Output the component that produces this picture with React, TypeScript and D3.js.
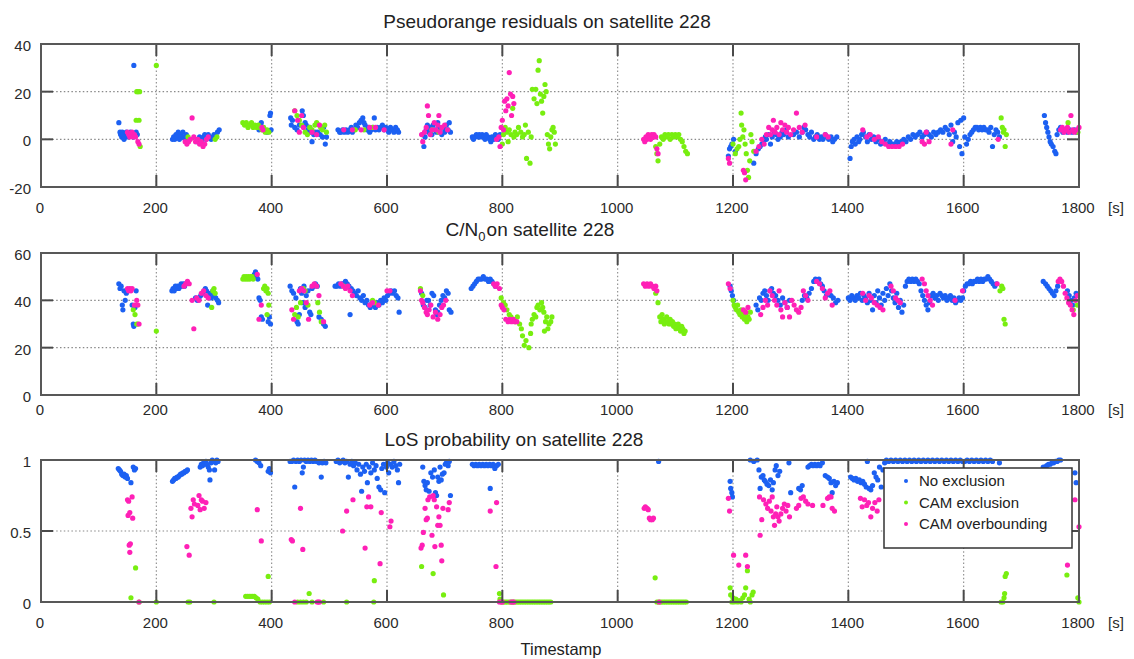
import React from "react";
import * as d3 from "d3";

type P = [number, number];

// ---------- Panel 1: pseudorange residuals ----------
const prBlue: P[] = [
  [135,7],[137,3],[138,2],[140,1],[141,3],[142,2],[144,0],[145,1],[146,2],[148,3],[150,1],[152,2],[155,3],[158,2],[160,1],[161,31],[163,2],[165,3],[167,2],
  [228,0],[230,1],[232,0],[234,2],[236,1],[238,3],[240,0],[242,2],[244,1],[246,3],[248,1],[250,0],[252,2],[254,1],[256,0],[270,-1],[272,0],[275,1],[278,-1],[280,0],[282,1],[284,2],[286,0],[288,1],[290,2],[292,1],[295,0],[298,1],[300,2],[303,1],[306,3],[309,4],
  [378,4],[380,6],[382,7],[385,5],[388,4],[392,3],[397,10],[398,11],[399,4],
  [433,9],[434,6],[436,8],[440,5],[444,4],[448,6],[453,12],[455,10],[458,7],[460,6],[463,4],[466,5],[468,3],[470,-1],[473,2],[476,3],[480,3],[484,2],[488,1],[490,5],[493,-2],[495,1],
  [515,4],[518,3],[520,3],[523,4],[526,3],[529,4],[532,3],[535,4],[538,5],[540,3],[543,4],[546,6],[549,5],[552,7],[555,8],[558,9],[560,7],[562,6],[565,4],[568,5],[570,3],[573,4],[576,5],[578,9],[580,4],[583,5],[586,4],[589,5],[592,6],[595,4],[598,5],[600,4],[603,3],[606,5],[609,4],[612,3],[615,5],[618,4],[620,3],
  [662,2],[664,-3],[666,1],[668,4],[670,6],[672,3],[675,5],[678,2],[680,6],[683,4],[686,3],[688,7],[690,5],[692,4],[695,2],[698,5],[700,3],[703,6],[706,4],[708,7],[710,3],
  [748,1],[750,0],[752,1],[755,2],[758,1],[760,2],[762,1],[765,2],[768,1],[770,0],[772,2],[775,1],[778,0],[780,-1],[782,1],[785,0],[788,2],[790,1],[793,0],[796,2],
  [1192,-7],[1194,-4],[1196,-3],[1198,-2],[1201,0],[1204,-5],[1236,-10],[1240,-6],[1244,-4],[1247,-3],[1250,-2],[1253,-1],[1256,1],[1258,0],[1262,2],[1265,-2],[1268,1],[1272,3],[1275,2],[1278,0],[1282,1],[1285,3],[1288,2],[1292,4],[1296,1],
  [1305,2],[1310,3],[1315,1],[1320,3],[1323,5],[1326,4],[1330,2],[1333,1],[1336,3],[1340,0],[1343,1],[1346,2],[1350,0],[1353,1],[1356,0],[1360,2],[1363,1],[1366,0],[1370,1],[1373,-1],[1376,0],[1380,1],
  [1403,-8],[1405,-3],[1407,-1],[1410,0],[1412,-2],[1415,1],[1418,-1],[1420,0],[1423,2],[1426,3],[1430,1],[1433,-1],[1436,2],[1440,0],[1444,1],[1448,-1],[1452,0],[1456,-2],[1460,-1],[1464,0],[1468,-2],[1472,-1],[1476,-2],[1480,-2],[1484,-1],[1488,-2],[1492,-1],[1496,0],[1500,-1],[1504,1],[1508,0],[1512,2],[1516,1],[1520,2],[1524,3],[1528,1],[1532,2],[1536,3],[1540,2],[1544,1],[1548,3],[1552,2],[1556,3],[1560,4],[1564,3],[1568,5],[1572,4],[1575,2],[1578,6],[1581,-1],[1584,3],[1587,1],[1590,7],[1593,-3],[1595,8],[1597,-6],[1600,9],
  [1602,1],[1605,-2],[1608,0],[1611,2],[1614,3],[1617,4],[1620,5],[1623,5],[1626,4],[1629,5],[1632,4],[1635,5],[1638,4],[1641,4],[1644,3],[1647,5],[1650,-3],[1653,2],[1656,4],[1659,3],[1662,1],
  [1740,10],[1742,7],[1744,5],[1746,3],[1748,1],[1750,-1],[1752,-2],[1755,-3],[1758,-5],[1760,-6],[1762,2],[1765,4],[1768,5],[1772,3],[1776,4],[1780,3],[1784,4],[1788,3],[1792,4],[1796,3],
];
const prGreen: P[] = [
  [165,8],[166,20],[168,20],[170,8],[171,20],[172,-3],[200,31],[255,1],[258,0],[302,0],[305,1],
  [350,7],[353,6],[356,7],[359,5],[362,6],[365,7],[368,5],[371,6],[374,5],[377,6],[380,5],[383,4],[386,5],[389,3],[392,4],[395,3],
  [440,12],[444,10],[448,8],[452,6],[458,3],[462,2],[466,5],[470,4],[475,6],[478,7],[482,6],[485,5],[488,4],[492,6],[495,3],[545,4],[560,4],[575,5],[678,4],[690,3],
  [800,-2],[802,2],[805,5],[808,3],[810,-1],[812,4],[815,2],[818,13],[820,1],[822,3],[825,2],[828,5],[832,3],[835,1],[838,2],[840,6],[842,-8],[845,3],[848,-10],[850,1],[852,21],[855,17],[858,21],[860,15],[862,29],[864,33],[866,19],[868,16],[870,11],[872,18],[874,23],[876,20],[878,2],[880,-2],[882,-4],[884,1],[886,4],[888,5],[890,3],[892,-2],
  [1066,-3],[1068,-6],[1070,-9],[1073,-2],[1076,1],[1079,0],[1082,2],[1085,1],[1088,2],[1091,0],[1094,2],[1097,1],[1100,2],[1103,1],[1106,2],[1109,0],[1112,-1],[1115,-3],[1118,-5],[1121,-6],
  [1200,-2],[1204,-6],[1207,-4],[1210,-3],[1212,0],[1214,11],[1215,6],[1217,1],[1219,4],[1221,-2],[1223,-6],[1225,-13],[1227,-16],[1229,-9],[1231,2],[1233,-1],[1236,-5],
  [1665,9],[1667,5],[1669,3],[1670,4],[1672,-3],[1674,2],[1781,7],[1798,3],
];
const prPink: P[] = [
  [150,3],[152,2],[154,1],[156,2],[158,3],[160,1],[162,2],[164,1],[168,-1],[170,-2],
  [250,-1],[253,-2],[256,-1],[259,0],[262,9],[265,1],[268,-1],[272,0],[275,-2],[278,-1],[281,-3],[284,-2],[287,0],[290,1],
  [383,5],[385,4],[440,12],[445,8],[448,3],[452,10],[455,5],[470,3],[478,2],[483,6],[525,4],[540,4],[555,4],[570,5],[580,5],[595,4],
  [660,2],[662,-1],[665,3],[668,5],[670,14],[672,10],[675,2],[678,4],[682,7],[685,4],[688,6],[690,10],[692,3],[695,5],[700,6],[705,4],
  [790,0],[794,1],[796,-3],[798,5],[800,8],[802,4],[804,16],[806,12],[808,17],[810,14],[812,28],[814,19],[816,10],[818,18],[820,15],
  [1045,0],[1047,-1],[1049,1],[1051,0],[1053,2],[1055,1],[1057,0],[1059,2],[1061,1],[1063,2],[1066,1],[1068,-4],[1070,-6],
  [1192,-8],[1194,-10],[1218,-13],[1220,-14],[1222,-17],[1240,-5],[1245,-3],[1250,0],[1254,-2],[1258,2],[1262,5],[1265,2],[1268,4],[1270,8],[1273,3],[1276,5],[1280,2],[1283,7],[1286,4],[1290,6],[1293,3],[1296,5],[1300,2],[1305,4],[1310,11],[1315,5],[1320,3],[1325,6],[1345,1],[1360,2],[1365,1],
  [1425,4],[1432,1],[1438,2],[1445,0],[1452,1],[1458,-1],[1464,-2],[1470,-3],[1476,-3],[1482,-3],[1488,-3],[1494,-2],[1528,-1],[1532,-2],[1535,3],[1540,-1],[1578,-2],[1581,4],[1660,0],
  [1768,4],[1771,5],[1774,3],[1777,4],[1780,5],[1783,3],[1786,10],[1789,4],[1792,3],[1796,4],[1800,5],
];

// ---------- Panel 2: C/N0 ----------
const cnBlue: P[] = [
  [135,47],[137,45],[139,46],[141,38],[142,36],[144,44],[146,40],[148,43],[150,44],[158,38],[160,30],[161,29],[163,37],[165,44],
  [227,44],[229,45],[231,44],[233,46],[235,45],[237,46],[239,45],[241,46],[243,47],[245,46],[247,47],[249,46],[251,47],
  [268,41],[271,40],[274,41],[277,42],[280,43],[283,44],[285,45],[287,44],[289,38],[291,42],[293,43],[295,41],[298,44],[300,42],[303,41],[306,40],[308,39],
  [370,51],[372,52],[374,50],[376,49],[378,41],[380,40],[382,33],[384,32],[394,31],[396,33],[398,30],
  [432,46],[435,44],[438,43],[442,41],[444,31],[446,30],[448,34],[450,45],[452,43],[454,39],[456,46],[458,37],[460,42],[463,44],[466,35],[468,34],[470,45],[473,46],[476,47],[479,46],[482,33],[486,32],[490,30],[493,29],
  [510,46],[513,46],[516,47],[519,46],[522,47],[525,47],[528,48],[531,47],[534,46],[536,34],[538,45],[541,44],[544,43],[547,42],[550,44],[553,41],[556,40],[559,42],[562,39],[565,40],[568,38],[571,37],[574,39],[577,38],[580,37],[583,39],[586,38],[589,40],[592,39],[595,41],[598,40],[601,42],[604,43],[607,44],[610,43],[613,44],[616,42],[619,41],[621,35],
  [660,43],[663,38],[666,37],[669,40],[672,40],[675,38],[678,43],[681,42],[684,36],[686,34],[688,35],[691,38],[694,40],[697,42],[700,41],[703,44],[706,43],[708,36],[711,35],
  [746,45],[749,46],[752,47],[755,48],[758,49],[761,49],[764,49],[767,50],[770,49],[773,49],[776,48],[779,49],[782,48],[785,47],[788,46],
  [1195,46],[1197,44],[1199,42],[1201,40],
  [1240,38],[1243,36],[1246,41],[1249,40],[1252,43],[1255,44],[1258,42],[1261,40],[1264,44],[1267,45],[1270,43],[1274,42],[1278,40],[1282,38],[1286,41],[1290,39],[1294,37],[1298,40],
  [1320,40],[1324,42],[1328,41],[1332,43],[1336,45],[1340,48],[1343,49],[1346,48],[1349,49],[1352,47],[1355,46],[1358,44],[1362,42],[1366,43],[1370,42],[1374,41],[1378,39],[1382,40],
  [1400,41],[1403,40],[1406,42],[1409,41],[1412,40],[1415,42],[1418,41],[1421,43],[1424,40],[1427,42],[1430,41],[1433,39],[1436,43],[1439,40],[1442,36],[1445,42],[1448,39],[1451,44],[1454,41],[1457,38],[1460,43],[1463,40],[1466,45],[1469,42],[1472,47],[1475,44],[1478,41],[1481,39],[1484,43],[1487,37],[1490,40],[1493,35],[1496,38],[1499,46],[1502,48],[1505,49],[1508,48],[1511,49],[1514,48],[1517,49],[1520,48],[1523,47],[1526,44],[1529,42],[1532,40],[1535,38],[1538,36],[1541,39],[1544,42],[1547,43],[1550,41],[1553,42],[1556,40],[1559,43],[1562,42],[1565,41],[1568,42],[1571,40],[1574,41],[1577,42],[1580,40],[1583,41],[1586,39],[1589,40],[1592,41],[1595,40],[1598,41],
  [1600,44],[1603,46],[1606,47],[1609,47],[1612,48],[1615,47],[1618,48],[1621,48],[1624,49],[1627,48],[1630,49],[1633,48],[1636,49],[1639,49],[1642,50],[1645,49],[1648,48],[1651,47],[1654,46],[1657,47],
  [1738,48],[1742,47],[1745,46],[1748,45],[1751,44],[1754,43],[1757,42],[1760,44],[1763,46],[1780,44],[1783,42],[1786,40],[1789,38],[1792,41],[1795,43],
];
const cnGreen: P[] = [
  [160,36],[163,34],[166,30],[168,30],[200,27],[296,37],[298,44],[300,45],[302,43],
  [350,49],[352,50],[354,49],[356,50],[358,49],[360,50],[362,49],[364,50],[366,50],[368,49],[386,45],[388,46],[390,44],[392,45],[394,43],[395,38],[392,34],
  [440,34],[443,37],[446,33],[450,39],[455,45],[458,44],[463,38],[480,39],[483,35],[486,31],[525,46],[575,40],[578,39],[658,45],[662,42],
  [798,41],[802,39],[805,38],[808,36],[812,34],[815,33],[818,32],[822,31],[826,33],[830,30],[833,28],[835,25],[838,21],[841,23],[846,20],[849,26],[850,30],[852,32],[855,34],[858,33],[860,37],[862,38],[865,36],[868,39],[870,37],[872,35],[873,27],[875,31],[877,33],[879,28],[881,30],[884,31],[886,33],
  [1066,43],[1070,39],[1073,33],[1075,31],[1077,34],[1079,32],[1081,30],[1083,31],[1085,33],[1087,31],[1089,30],[1091,32],[1093,30],[1095,31],[1097,29],[1099,30],[1101,28],[1103,29],[1105,30],[1107,28],[1109,27],[1111,29],[1113,28],[1115,26],[1117,27],
  [1200,40],[1202,38],[1204,37],[1206,36],[1208,38],[1210,35],[1212,34],[1214,36],[1216,33],[1218,35],[1220,32],[1222,34],[1224,31],[1226,33],[1228,32],[1230,35],
  [1663,44],[1666,46],[1668,45],[1670,32],[1672,30],[1790,36],[1797,38],
];
const cnPink: P[] = [
  [150,45],[152,44],[154,45],[156,44],[158,45],[162,38],[166,40],[168,38],[170,30],
  [248,46],[251,47],[254,48],[257,47],[262,40],[265,28],[270,41],[274,40],[278,43],[282,44],[286,42],[290,41],
  [375,51],[378,32],[382,38],[435,36],[438,32],[448,44],[452,45],[456,44],[460,39],[464,32],[470,46],[474,47],[478,46],[482,42],[490,31],
  [520,47],[524,46],[528,45],[532,46],[536,44],[540,42],[570,38],[575,39],[585,38],[600,44],[605,44],
  [658,44],[660,40],[662,39],[665,37],[668,35],[670,34],[673,36],[676,38],[680,33],[684,35],[688,32],[692,34],[695,37],[698,38],[702,40],
  [785,47],[788,46],[791,47],[795,45],[798,38],[800,37],[803,36],[806,32],[810,31],[813,32],[816,31],[819,32],[822,31],[825,31],
  [1045,47],[1048,46],[1051,47],[1054,46],[1057,47],[1060,46],[1063,45],[1066,46],[1068,44],[1192,47],[1195,45],
  [1218,36],[1222,35],[1226,37],[1248,34],[1252,37],[1256,40],[1260,38],[1264,44],[1268,42],[1272,40],[1276,38],[1280,44],[1283,36],[1286,33],[1290,39],[1294,37],[1298,33],[1302,40],[1306,38],[1310,36],[1314,35],[1318,37],[1322,44],[1326,42],[1330,40],[1345,48],[1350,47],[1355,45],[1360,41],[1364,43],[1368,44],[1372,38],
  [1425,43],[1430,40],[1436,42],[1440,41],[1445,39],[1450,38],[1455,37],[1460,36],[1474,46],[1478,44],[1482,41],[1486,40],[1490,39],[1528,49],[1532,47],[1535,44],[1538,42],[1542,40],[1546,38],[1585,40],
  [1598,44],[1658,47],[1764,48],[1767,49],[1770,48],[1773,46],[1776,43],[1779,41],[1782,39],[1785,38],[1788,36],[1791,34],[1794,40],[1797,42],
];

// ---------- Panel 3: LoS probability ----------
const losBlue: P[] = [
  [134,0.94],[136,0.93],[138,0.92],[140,0.9],[142,0.89],[144,0.9],[146,0.88],[148,0.89],[150,0.87],[156,0.84],[160,0.95],[162,0.93],[164,0.94],
  [228,0.85],[230,0.86],[232,0.87],[234,0.87],[236,0.88],[238,0.88],[240,0.89],[242,0.9],[244,0.9],[246,0.91],[248,0.91],[250,0.92],[252,0.92],[254,0.93],
  [276,0.95],[278,0.97],[280,0.96],[282,0.98],[284,0.97],[286,0.99],[288,0.97],[290,0.95],[292,0.93],[293,0.86],[295,0.98],[297,1.0],[299,0.99],[301,0.93],[303,0.98],[305,1.0],[307,0.99],
  [372,1.0],[375,0.99],[378,0.98],[381,0.96],[394,0.92],[396,0.94],[398,0.91],
  [432,0.99],[435,0.99],[438,1.0],[440,0.81],[442,0.99],[445,1.0],[448,0.99],[451,1.0],[453,0.91],[455,0.95],[457,1.0],[460,0.99],[463,1.0],[466,0.99],[469,1.0],[472,0.99],[475,1.0],[478,0.99],[482,0.98],[486,0.88],[488,0.98],[491,0.99],[494,0.98],
  [512,0.99],[515,1.0],[518,0.98],[521,0.99],[524,1.0],[527,0.98],[530,0.99],[533,0.88],[536,0.97],[539,0.99],[542,0.96],[545,0.98],[548,0.93],[551,0.97],[554,0.9],[556,0.78],[558,0.95],[561,0.92],[564,0.97],[566,0.84],[569,0.95],[572,0.91],[575,0.98],[578,0.93],[581,0.96],[583,0.87],[586,0.81],[589,0.79],[591,0.94],[594,0.97],[596,0.77],[599,0.95],[601,0.98],[603,0.91],[606,0.97],[609,0.95],[612,0.99],[615,0.96],[618,0.93],[620,0.84],[622,0.97],
  [662,0.95],[664,0.85],[666,0.82],[668,0.79],[670,0.84],[673,0.78],[676,0.91],[679,0.88],[682,0.93],[684,0.77],[686,0.75],[688,0.88],[690,0.85],[692,0.95],[694,0.86],[696,0.9],[699,0.91],[701,0.97],[703,0.98],[706,0.96],[708,0.99],[710,0.75],
  [748,0.97],[751,0.96],[754,0.97],[757,0.96],[760,0.97],[763,0.96],[766,0.97],[769,0.96],[772,0.97],[775,0.96],[778,0.97],[779,0.8],[781,0.96],[784,0.97],[787,0.94],[790,0.96],[793,0.97],
  [1071,0.99],[1195,0.85],[1196,0.8],[1198,0.77],[1199,0.74],
  [1230,1.0],[1236,0.99],[1242,1.0],[1245,0.93],[1247,0.8],[1249,0.88],[1252,0.89],[1254,0.86],[1256,0.85],[1259,0.83],[1262,0.82],[1265,0.86],[1268,0.79],[1270,0.84],[1273,0.93],[1275,0.96],[1278,0.89],[1281,0.92],[1297,0.98],[1300,0.77],[1314,0.8],[1317,0.79],[1320,0.82],
  [1330,0.95],[1333,0.96],[1336,0.97],[1339,0.96],[1342,0.97],[1345,0.96],[1348,0.97],[1351,0.96],[1355,0.98],[1360,0.89],[1364,0.88],[1367,0.87],[1370,0.84],[1372,0.77],[1375,0.85],[1378,0.82],[1381,0.84],
  [1404,0.88],[1407,0.87],[1410,0.86],[1413,0.87],[1416,0.85],[1419,0.86],[1422,0.84],[1425,0.85],[1428,0.83],[1431,0.81],[1433,0.99],[1436,0.8],[1439,0.79],[1442,0.82],[1445,0.91],[1448,0.88],[1451,0.86],[1454,0.95],[1457,0.81],[1460,0.93],[1463,0.98],
  [1466,1.0],[1470,0.99],[1474,1.0],[1478,0.99],[1482,1.0],[1486,0.99],[1490,1.0],[1494,0.99],[1498,1.0],[1502,0.99],[1506,1.0],[1510,0.99],[1514,1.0],[1518,0.99],[1522,1.0],[1526,0.99],[1530,1.0],[1534,0.99],[1538,1.0],[1542,0.99],[1546,1.0],[1550,0.99],[1554,1.0],[1558,0.99],[1562,1.0],[1566,0.99],[1570,1.0],[1574,0.99],[1578,1.0],[1582,0.99],[1586,1.0],[1590,0.99],[1594,1.0],[1598,0.99],[1602,0.99],[1606,1.0],[1610,0.99],[1614,1.0],[1618,0.99],[1622,1.0],[1626,0.99],[1630,1.0],[1634,0.99],[1638,1.0],[1642,0.99],[1646,1.0],[1650,0.99],[1662,0.98],
  [1738,0.95],[1741,0.95],[1744,0.96],[1747,0.97],[1750,0.97],[1753,0.98],[1756,0.98],[1759,0.99],[1762,0.99],[1765,1.0],[1768,1.0],[1793,0.91],[1795,0.84],
];
const losGreen: P[] = [
  [156,0.03],[164,0.24],[170,0],[200,0],[255,0],[258,0],[300,0],
  [355,0.04],[358,0.04],[361,0.04],[364,0.04],[367,0.04],[370,0.04],[373,0.03],[376,0.02],[380,0],[384,0],[388,0],[392,0],[394,0.18],[396,0],
  [445,0],[450,0],[455,0],[460,0],[465,0.06],[470,0],[490,0],[530,0],[577,0],[578,0.15],[660,0.25],[680,0.2],[698,0.05],[795,0.06],[796,0.02],
  [800,0],[803,0],[806,0],[809,0],[812,0],[815,0],[818,0],[821,0],[824,0],[827,0],[830,0],[833,0],[836,0],[839,0],[842,0],[845,0],[848,0],[851,0],[854,0],[857,0],[860,0],[863,0],[866,0],[869,0],[872,0],[875,0],[878,0],[881,0],[884,0],
  [1065,0.17],[1068,0],[1071,0],[1074,0],[1077,0],[1080,0],[1083,0],[1086,0],[1089,0],[1092,0],[1095,0],[1098,0],[1101,0],[1104,0],[1107,0],[1110,0],[1113,0],[1116,0],[1119,0],
  [1195,0.1],[1196,0.05],[1198,0],[1200,0.03],[1202,0],[1205,0.02],[1208,0],[1211,0.01],[1214,0],[1217,0.03],[1220,0.05],[1222,0.1],[1225,0.22],[1228,0.02],[1230,0],[1233,0.05],[1235,0.07],
  [1665,0],[1668,0],[1670,0.03],[1671,0.06],[1672,0.18],[1674,0.2],[1779,0.19],[1798,0.03],[1800,0],
];
const losPink: P[] = [
  [150,0.72],[152,0.71],[158,0.74],[151,0.61],[154,0.63],[159,0.59],[153,0.4],[155,0.41],[154,0.35],[170,0],
  [253,0.39],[257,0.33],[260,0.66],[262,0.6],[264,0.72],[266,0.69],[272,0.68],[274,0.75],[276,0.65],[278,0.72],[280,0.71],[283,0.66],[286,0.7],
  [375,0.65],[382,0.43],[434,0.44],[436,0.43],[440,0],[450,0.66],[454,0.37],[479,0],[481,0],[483,0],[523,0.5],[530,0.64],[541,0.72],[562,0.38],[565,0.67],[568,0.74],[572,0.67],[588,0.27],[590,0.63],[605,0.53],[607,0.57],
  [659,0.38],[661,0.4],[663,0.49],[666,0.66],[668,0.58],[670,0.59],[671,0.72],[674,0.74],[678,0.47],[680,0.75],[682,0.72],[683,0.39],[686,0.67],[688,0.54],[690,0.6],[692,0.54],[694,0.4],[695,0.29],[697,0.66],[706,0.65],[708,0.7],
  [779,0.64],[790,0.7],[789,0.25],[795,0],[798,0],[800,0],[815,0],[818,0],[820,0],
  [1046,0.66],[1048,0.67],[1051,0.66],[1053,0.65],[1055,0.59],[1057,0.58],[1060,0.58],[1062,0.59],[1072,0],
  [1192,0.73],[1194,0.64],[1201,0.33],[1210,0.26],[1222,0.33],[1225,0.25],
  [1246,0.74],[1247,0.47],[1250,0.58],[1253,0.72],[1257,0.69],[1260,0.66],[1263,0.71],[1266,0.64],[1268,0.74],[1270,0.6],[1272,0.54],[1274,0.62],[1276,0.67],[1278,0.6],[1280,0.57],[1283,0.62],[1286,0.66],[1289,0.69],[1292,0.64],[1295,0.68],[1298,0.6],
  [1310,0.66],[1314,0.68],[1318,0.73],[1322,0.74],[1326,0.71],[1330,0.69],[1338,0.68],[1356,0.68],[1364,0.73],[1367,0.74],[1370,0.74],[1372,0.66],[1376,0.64],
  [1421,0.73],[1424,0.67],[1428,0.72],[1432,0.68],[1435,0.7],[1439,0.6],[1442,0.66],[1446,0.7],[1450,0.64],[1453,0.72],
  [1780,0.26],[1782,0.4],[1793,0.72],[1800,0.53],
];

const xTicks = [0, 200, 400, 600, 800, 1000, 1200, 1400, 1600, 1800];
const prTicks = [-20, 0, 20, 40];
const cnTicks = [0, 20, 40, 60];
const losTicks = [0, 0.5, 1];
const legendLabels = ["No exclusion", "CAM exclusion", "CAM overbounding"];

const COLORS = ["#1c60f2", "#78ee10", "#ff20b6"];
const FONT = "'Liberation Sans', Arial, sans-serif";

const x = d3.scaleLinear().domain([0, 1800]).range([41, 1079]);

interface PanelDef {
  top: number;
  bottom: number;
  domain: [number, number];
  ticks: number[];
  labelY: number;
  series: P[][];
}

const panels: PanelDef[] = [
  { top: 44, bottom: 187, domain: [-20, 40], ticks: prTicks, labelY: 209, series: [prBlue, prGreen, prPink] },
  { top: 253, bottom: 395, domain: [0, 60], ticks: cnTicks, labelY: 411, series: [cnBlue, cnGreen, cnPink] },
  { top: 460, bottom: 602, domain: [0, 1], ticks: losTicks, labelY: 624, series: [losBlue, losGreen, losPink] },
];

function Panel({ p, idx }: { p: PanelDef; idx: number }) {
  const y = d3.scaleLinear().domain(p.domain).range([p.bottom, p.top]);
  const L = x.range()[0], R = x.range()[1];
  const tl = 12;
  return (
    <g>
      <defs>
        <clipPath id={`clip${idx}`}>
          <rect x={L - 3} y={p.top - 3} width={R - L + 6} height={p.bottom - p.top + 6} />
        </clipPath>
      </defs>
      {xTicks.slice(1, -1).map((t) => (
        <line key={"gx" + t} x1={x(t)} x2={x(t)} y1={p.top} y2={p.bottom} stroke="#8a8a8a" strokeWidth={1.1} strokeDasharray="1.5,2.3" />
      ))}
      {p.ticks.slice(1, -1).map((t) => (
        <line key={"gy" + t} x1={L} x2={R} y1={y(t)} y2={y(t)} stroke="#8a8a8a" strokeWidth={1.1} strokeDasharray="1.5,2.3" />
      ))}
      <g clipPath={`url(#clip${idx})`}>
        {p.series.map((s, si) =>
          s.map((d, i) => <circle key={si + "-" + i} cx={x(d[0])} cy={y(d[1])} r={2.6} fill={COLORS[si]} />)
        )}
      </g>
      {xTicks.slice(1, -1).map((t) => (
        <g key={"tx" + t} stroke="#4a4a4a" strokeWidth={2}>
          <line x1={x(t)} x2={x(t)} y1={p.bottom} y2={p.bottom - tl} />
          <line x1={x(t)} x2={x(t)} y1={p.top} y2={p.top + tl} />
        </g>
      ))}
      {p.ticks.slice(1, -1).map((t) => (
        <g key={"ty" + t} stroke="#4a4a4a" strokeWidth={2}>
          <line x1={L} x2={L + tl} y1={y(t)} y2={y(t)} />
          <line x1={R} x2={R - tl} y1={y(t)} y2={y(t)} />
        </g>
      ))}
      <rect x={L} y={p.top} width={R - L} height={p.bottom - p.top} fill="none" stroke="#585858" strokeWidth={2} />
      {p.ticks.map((t) => (
        <text key={"ly" + t} x={31} y={y(t) + 3} textAnchor="end" dominantBaseline="middle" fontSize={15} fill="#2a2a2a" fontFamily={FONT}>
          {String(t)}
        </text>
      ))}
      {xTicks.map((t) => (
        <text key={"lx" + t} x={x(t) - 1} y={p.labelY} textAnchor="middle" dominantBaseline="middle" fontSize={15} fill="#2a2a2a" fontFamily={FONT}>
          {t}
        </text>
      ))}
      <text x={1116} y={p.labelY} textAnchor="middle" dominantBaseline="middle" fontSize={15} fill="#2a2a2a" fontFamily={FONT}>
        [s]
      </text>
    </g>
  );
}

export default function App() {
  return (
    <svg width={1134} height={659} style={{ display: "block", position: "absolute", left: 0, top: 0, background: "#fff" }} fontFamily={FONT}>
      <rect x={0} y={0} width={1134} height={659} fill="#fff" />
      <text x={547} y={28} textAnchor="middle" fontSize={19} fill="#222">Pseudorange residuals on satellite 228</text>
      <text x={530} y={236} textAnchor="middle" fontSize={19} fill="#222">
        C/N<tspan fontSize={13} dy={5}>0</tspan>
        <tspan dy={-5} dx={1}>on satellite 228</tspan>
      </text>
      <text x={514} y={446} textAnchor="middle" fontSize={19} fill="#222">LoS probability on satellite 228</text>
      {panels.map((p, i) => (
        <Panel key={i} p={p} idx={i} />
      ))}
      <text x={561} y={655} textAnchor="middle" fontSize={16.5} fill="#222">Timestamp</text>
      <g>
        <rect x={884} y={468} width={188} height={80} fill="#fff" stroke="#333" strokeWidth={1.5} />
        {legendLabels.map((l, i) => (
          <g key={l}>
            <circle cx={906} cy={481 + i * 21.5} r={2} fill={COLORS[i]} />
            <text x={919} y={486 + i * 21.5} fontSize={15} fill="#222">{l}</text>
          </g>
        ))}
      </g>
    </svg>
  );
}
